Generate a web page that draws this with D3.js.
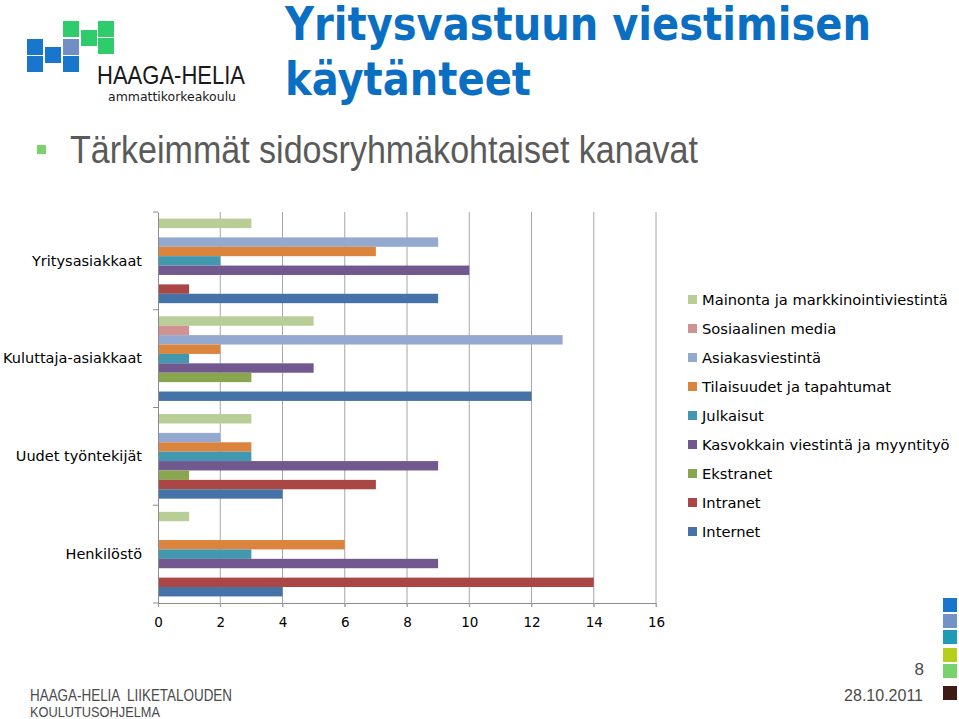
<!DOCTYPE html>
<html>
<head>
<meta charset="utf-8">
<title>Yritysvastuun viestimisen käytänteet</title>
<script src="https://d3js.org/d3.v7.min.js"></script>
<style>
  body { margin: 0; background: #fff; }
  svg { display: block; }
  text { white-space: pre; }
</style>
</head>
<body>
<div id="slide"></div>
<script>

// data
var categories = ["Yritysasiakkaat", "Kuluttaja-asiakkaat", "Uudet työntekijät", "Henkilöstö"];
var series = ["Mainonta ja markkinointiviestintä", "Sosiaalinen media", "Asiakasviestintä",
              "Tilaisuudet ja tapahtumat", "Julkaisut", "Kasvokkain viestintä ja myyntityö",
              "Ekstranet", "Intranet", "Internet"];
var colors = ["#b9cd96", "#d19392", "#93a9cf", "#db843d", "#4198af", "#71588f", "#89a54e", "#aa4643", "#4572a7"];
// one array per series, in category order
var mainonta    = [3, 5, 3, 1];
var sosiaalinen = [0, 1, 0, 0];
var asiakas     = [9, 13, 2, 0];
var tilaisuudet = [7, 2, 3, 6];
var julkaisut   = [2, 1, 3, 3];
var kasvokkain  = [10, 5, 9, 9];
var ekstranet   = [0, 3, 1, 0];
var intranet    = [1, 0, 7, 14];
var internet    = [9, 12, 4, 4];
var xTicks = [0, 2, 4, 6, 8, 10, 12, 14, 16];

var values = [mainonta, sosiaalinen, asiakas, tilaisuudet, julkaisut, kasvokkain, ekstranet, intranet, internet];

var W = 959, H = 719;
var svg = d3.select("#slide").append("svg")
    .attr("width", W)
    .attr("height", H);

// --- logo
var logo = svg.append("g");
var sq = [
  [63, 21, "#2ecc6a"], [81, 30, "#2ecc6a"], [98, 21, "#2ecc6a"], [98, 38, "#2ecc6a"],
  [27, 39, "#1877cc"], [27, 56, "#1877cc"], [45, 47, "#1877cc"],
  [63, 39, "#6f8fc6"], [63, 56, "#1877cc"]
];
logo.selectAll("rect").data(sq).join("rect")
    .attr("x", d => d[0]).attr("y", d => d[1])
    .attr("width", 16).attr("height", 16)
    .attr("fill", d => d[2]);
logo.append("text")
    .attr("x", 97).attr("y", 84)
    .attr("font-family", "Liberation Sans, Arial, sans-serif")
    .attr("font-size", 26)
    .attr("textLength", 148).attr("lengthAdjust", "spacingAndGlyphs")
    .attr("fill", "#1a1a1a")
    .text("HAAGA-HELIA");
logo.append("text")
    .attr("x", 108).attr("y", 101)
    .attr("font-family", "DejaVu Sans, sans-serif")
    .attr("font-size", 12.5)
    .attr("textLength", 128).attr("lengthAdjust", "spacingAndGlyphs")
    .attr("fill", "#1a1a1a")
    .text("ammattikorkeakoulu");

// --- title
var title = svg.append("g")
    .attr("font-family", "DejaVu Sans, Verdana, sans-serif")
    .attr("font-weight", "bold")
    .attr("font-size", 46)
    .attr("fill", "#0a6fc2");
title.append("text").attr("x", 285).attr("y", 40)
    .attr("textLength", 586).attr("lengthAdjust", "spacingAndGlyphs")
    .text("Yritysvastuun viestimisen");
title.append("text").attr("x", 285).attr("y", 95)
    .attr("textLength", 246).attr("lengthAdjust", "spacingAndGlyphs")
    .text("käytänteet");

// --- subtitle with bullet
svg.append("rect")
    .attr("x", 37).attr("y", 145).attr("width", 9).attr("height", 9)
    .attr("fill", "#78d36a");
svg.append("text")
    .attr("x", 70).attr("y", 163)
    .attr("font-family", "Liberation Sans Narrow, Liberation Sans, Arial, sans-serif")
    .attr("font-size", 38)
    .attr("textLength", 628).attr("lengthAdjust", "spacingAndGlyphs")
    .attr("fill", "#5a5a5a")
    .text("Tärkeimmät sidosryhmäkohtaiset kanavat");

// --- chart
var plotL = 158, plotR = 656, plotT = 212, plotB = 603;

var x = d3.scaleLinear().domain([0, 16]).range([plotL, plotR]);
var y = d3.scaleBand().domain(categories).range([plotT, plotB]);
var ys = d3.scaleBand().domain(series).range([0, y.bandwidth()]).paddingOuter(0.7);

var chart = svg.append("g");

// vertical gridlines
chart.append("g").selectAll("line").data(xTicks.slice(1)).join("line")
    .attr("x1", d => x(d)).attr("x2", d => x(d))
    .attr("y1", plotT).attr("y2", plotB + 4)
    .attr("stroke", "#a6a6a6").attr("stroke-width", 1);

// bars
var groups = chart.append("g").selectAll("g").data(categories).join("g")
    .attr("transform", c => "translate(0," + y(c) + ")");
groups.selectAll("rect")
    .data((c, ci) => series.map((s, si) => ({ s: s, v: values[si][ci], col: colors[si] })))
    .join("rect")
    .attr("x", x(0))
    .attr("y", d => ys(d.s))
    .attr("width", d => x(d.v) - x(0))
    .attr("height", ys.bandwidth())
    .attr("fill", d => d.col);

// x axis
var xAxis = chart.append("g")
    .attr("transform", "translate(0," + plotB + ")")
    .call(d3.axisBottom(x).tickValues(xTicks).tickSize(4).tickPadding(10));
xAxis.select(".domain").attr("stroke", "#8c8c8c");
xAxis.selectAll(".tick line").attr("stroke", "#a6a6a6");
xAxis.selectAll(".tick text")
    .attr("font-family", "DejaVu Sans, Verdana, sans-serif")
    .attr("font-size", 13.5)
    .attr("fill", "#000");

// y axis
var yAxis = chart.append("g")
    .attr("transform", "translate(" + plotL + ",0)")
    .call(d3.axisLeft(y).tickSize(0).tickPadding(16));
yAxis.select(".domain").attr("stroke", "#8c8c8c");
yAxis.selectAll(".tick text")
    .attr("font-family", "DejaVu Sans, Verdana, sans-serif")
    .attr("font-size", 14.5)
    .attr("fill", "#000");
// category boundary ticks
chart.append("g").selectAll("line")
    .data(categories.map(c => y(c)).concat([plotB]))
    .join("line")
    .attr("x1", plotL - 5).attr("x2", plotL)
    .attr("y1", d => d).attr("y2", d => d)
    .attr("stroke", "#8c8c8c");

// legend
var legend = svg.append("g")
    .attr("font-family", "DejaVu Sans, Verdana, sans-serif")
    .attr("font-size", 14.7);
var li = legend.selectAll("g").data(series).join("g")
    .attr("transform", (d, i) => "translate(688," + (300 + i * 29) + ")");
li.append("rect")
    .attr("x", 0).attr("y", -5).attr("width", 9).attr("height", 9)
    .attr("fill", (d, i) => colors[i]);
li.append("text")
    .attr("x", 14).attr("y", 5)
    .attr("fill", "#000")
    .text(d => d);

// --- footer
var foot = svg.append("g")
    .attr("font-family", "Liberation Sans Narrow, Liberation Sans, Arial, sans-serif")
    .attr("fill", "#4a4a4a");
foot.append("text").attr("x", 30).attr("y", 701).attr("font-size", 16)
    .attr("textLength", 202).attr("lengthAdjust", "spacingAndGlyphs")
    .text("HAAGA-HELIA  LIIKETALOUDEN");
foot.append("text").attr("x", 30).attr("y", 717).attr("font-size", 15)
    .attr("textLength", 130).attr("lengthAdjust", "spacingAndGlyphs")
    .text("KOULUTUSOHJELMA");
foot.append("text").attr("x", 923).attr("y", 701).attr("font-size", 16)
    .attr("text-anchor", "end")
    .text("28.10.2011");
foot.append("text").attr("x", 924).attr("y", 675).attr("font-size", 17)
    .attr("text-anchor", "end")
    .text("8");

// right edge colour squares
var side = [[598, "#1a75cf"], [614, "#7393c8"], [630, "#1f9bb5"], [648, "#b5cf1c"], [664, "#77d36b"], [686, "#3d1c16"]];
svg.append("g").selectAll("rect").data(side).join("rect")
    .attr("x", 943).attr("y", d => d[0])
    .attr("width", 14).attr("height", 14)
    .attr("fill", d => d[1]);

</script>
</body>
</html>
